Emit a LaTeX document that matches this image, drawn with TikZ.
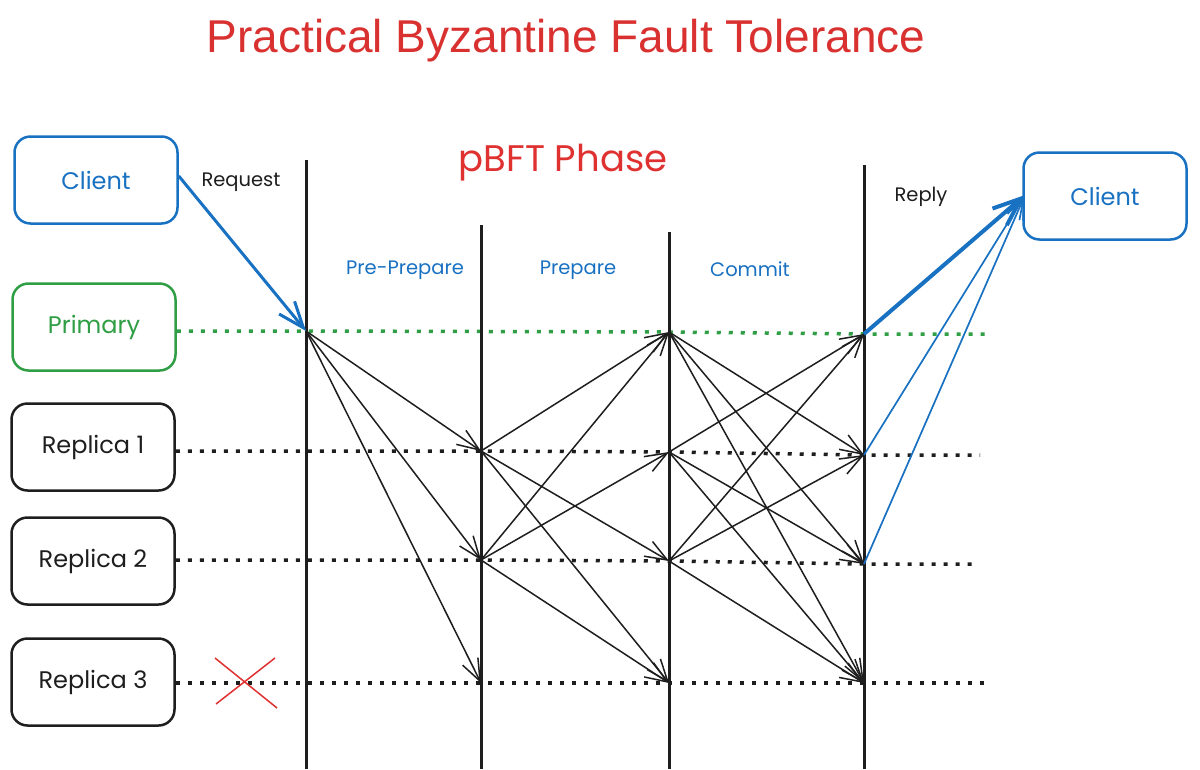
\documentclass[tikz,border=0pt]{standalone}
\usepackage{fontspec}
\setmainfont{Liberation Sans}
\newfontfamily\hand{Poppins}
\usetikzlibrary{arrows.meta}
\definecolor{exblue}{HTML}{1971C2}
\definecolor{exgreen}{HTML}{2F9E44}
\definecolor{exred}{HTML}{E03131}
\definecolor{titlered}{HTML}{D93030}
\definecolor{ink}{HTML}{1E1E1E}
\begin{document}
\begin{tikzpicture}[x=1pt,y=-1pt,
  box/.style={draw, line width=2.5pt, rounded corners=16pt, minimum width=163pt, minimum height=87pt, font=\hand\fontsize{24}{28}\selectfont},
  lifeline/.style={ink, line width=3pt},
  dots/.style={line width=3.5pt, dash pattern=on 4pt off 8pt},
  msg/.style={ink, line width=1.5pt, -{Straight Barb[length=22pt,width=17pt]}},
  reply/.style={exblue, line width=1.7pt, -{Straight Barb[length=22pt,width=17pt]}},
  phase/.style={font=\hand\fontsize{19.5}{23}\selectfont, text=exblue},
  lbl/.style={font=\hand\fontsize{19.5}{23}\selectfont, text=ink},
]
\useasboundingbox[fill=white] (0,0) rectangle (1200,769);

% title
\node[text=titlered, font=\fontsize{46}{52}\selectfont] (title) at (566,41) {Practical Byzantine Fault Tolerance};
\node[text=exred, font=\hand\fontsize{37}{42}\selectfont] (phasettl) at (563,163) {pBFT Phase};

% boxes
\node[box, exblue, text=exblue] (client) at (96,180) {Client};
\node[box, exgreen, text=exgreen] (primary) at (94,327) {Primary};
\node[box, ink, text=ink] (rep1) at (93,447) {Replica 1};
\node[box, ink, text=ink] (rep2) at (93,561) {Replica 2};
\node[box, ink, text=ink] (rep3) at (93,682) {Replica 3};
\node[box, exblue, text=exblue] (client2) at (1105,196) {Client};

% labels
\node[lbl] (req) at (241,182) {Request};
\node[lbl] (rep) at (921,197) {Reply};
\node[phase] (pp) at (405,270) {Pre-Prepare};
\node[phase] (pr) at (578,270) {Prepare};
\node[phase] (cm) at (750,269) {Commit};

% message points
\coordinate (pA) at (306,331);
\coordinate (r1B) at (481,451);
\coordinate (r2B) at (481,560);
\coordinate (r3B) at (481,683);
\coordinate (pC) at (669,332);
\coordinate (r1C) at (669,452);
\coordinate (r2C) at (669,561);
\coordinate (r3C) at (669,683);
\coordinate (pD) at (864,334);
\coordinate (r1D) at (864,455);
\coordinate (r2D) at (864,564);
\coordinate (r3D) at (864,683);

% dotted lanes
\coordinate (pE) at (990,334);
\coordinate (r1E) at (980,455);
\coordinate (r2E) at (978,564);
\coordinate (r3E) at (990,683);
\draw[dots, exgreen] (primary.east |- pA) -- (pA) -- (pC) -- (pD) -- (pE);
\draw[dots, ink] (rep1.east |- r1B) -- (r1B) -- (r1C) -- (r1D) -- (r1E);
\draw[dots, ink] (rep2.east |- r2B) -- (r2B) -- (r2C) -- (r2D) -- (r2E);
\draw[dots, ink] (rep3.east |- r3B) -- (r3B) -- (r3C) -- (r3D) -- (r3E);

% lifelines
\coordinate (At) at (306,160); \coordinate (Ab) at (306,769);
\coordinate (Bt) at (481,225); \coordinate (Bb) at (481,769);
\coordinate (Ct) at (669,232); \coordinate (Cb) at (669,769);
\coordinate (Dt) at (864,165); \coordinate (Db) at (864,769);
\draw[lifeline] (At) -- (Ab);
\draw[lifeline] (Bt) -- (Bb);
\draw[lifeline] (Ct) -- (Cb);
\draw[lifeline] (Dt) -- (Db);

% request
\draw[exblue, line width=3pt, -{Straight Barb[length=26pt,width=20pt]}] (client.east) ++(0,-4) coordinate (cq) -- (pA);

% pre-prepare
\draw[msg] (pA) -- (r1B);
\draw[msg] (pA) -- (r2B);
\draw[msg] (pA) -- (r3B);

% prepare
\draw[msg] (r1B) -- (pC);
\draw[msg] (r1B) -- (r2C);
\draw[msg] (r1B) -- (r3C);
\draw[msg] (r2B) -- (pC);
\draw[msg] (r2B) -- (r1C);
\draw[msg] (r2B) -- (r3C);

% commit
\draw[msg] (pC) -- (r1D);
\draw[msg] (pC) -- (r2D);
\draw[msg] (pC) -- (r3D);
\draw[msg] (r1C) -- (pD);
\draw[msg] (r1C) -- (r2D);
\draw[msg] (r1C) -- (r3D);
\draw[msg] (r2C) -- (pD);
\draw[msg] (r2C) -- (r1D);
\draw[msg] (r2C) -- (r3D);

% reply
\coordinate (cin) at (1025,195);
\draw[reply, line width=4pt, -{Straight Barb[length=28pt,width=22pt]}] (pD) -- (cin);
\draw[reply] (r1D) -- (cin);
\draw[reply] (r2D) -- (cin);

% faulty replica
\draw[exred, line width=1.5pt] (215,658) -- (277,708) (275,658) -- (216,704);
\end{tikzpicture}
\end{document}
